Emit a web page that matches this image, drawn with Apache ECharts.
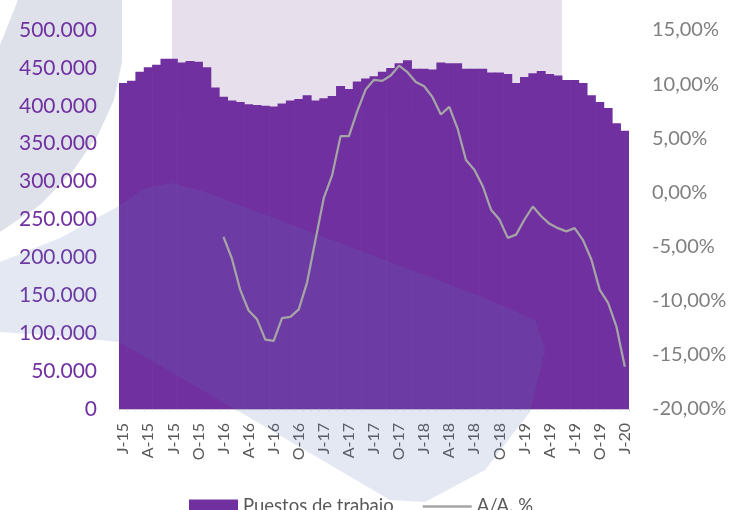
<!DOCTYPE html>
<html>
<head>
<meta charset="utf-8">
<script src="https://cdn.jsdelivr.net/npm/echarts@6/dist/echarts.min.js"></script>
<style>
  html, body { margin: 0; padding: 0; background: #ffffff; }
  #chart { width: 740px; height: 510px; }
</style>
</head>
<body>
<div id="chart"></div>
<script>
// meses ene-2015 .. ene-2020
const meses = [
  'J-15', 'F-15', 'M-15', 'A-15', 'M-15', 'J-15', 'J-15', 'A-15', 'S-15', 'O-15', 'N-15', 'D-15',
  'J-16', 'F-16', 'M-16', 'A-16', 'M-16', 'J-16', 'J-16', 'A-16', 'S-16', 'O-16', 'N-16', 'D-16',
  'J-17', 'F-17', 'M-17', 'A-17', 'M-17', 'J-17', 'J-17', 'A-17', 'S-17', 'O-17', 'N-17', 'D-17',
  'J-18', 'F-18', 'M-18', 'A-18', 'M-18', 'J-18', 'J-18', 'A-18', 'S-18', 'O-18', 'N-18', 'D-18',
  'J-19', 'F-19', 'M-19', 'A-19', 'M-19', 'J-19', 'J-19', 'A-19', 'S-19', 'O-19', 'N-19', 'D-19',
  'J-20'
];

const puestos = [
  430000, 433000, 445000, 451000, 454000, 462000, 462000, 457000, 459000, 458000, 451000, 424000,
  412000, 407000, 405000, 402000, 401000, 400000, 399000, 403000, 407000, 409000, 414000, 407000,
  410000, 413000, 426000, 422000, 432000, 436000, 439000, 445000, 450000, 456000, 460000, 449000,
  449000, 448000, 457000, 456000, 456000, 449000, 449000, 449000, 444000, 444000, 442000, 430000,
  438000, 443000, 446000, 442000, 440000, 434000, 434000, 430000, 414000, 405000, 397000, 377000,
  367000
];

// variacion anual en %, sin dato en 2015
const variacion = [
  null, null, null, null, null, null, null, null, null, null, null, null,
  -4.1, -6.1, -9.0, -10.9, -11.7, -13.6, -13.7, -11.6, -11.5, -10.8, -8.3, -4.4,
  -0.5, 1.6, 5.2, 5.2, 7.5, 9.5, 10.4, 10.3, 10.8, 11.7, 11.1, 10.2,
  9.8, 8.8, 7.2, 7.9, 5.9, 3.0, 2.1, 0.6, -1.6, -2.5, -4.2, -3.9,
  -2.5, -1.3, -2.2, -2.9, -3.3, -3.6, -3.3, -4.4, -6.2, -9.0, -10.2, -12.4,
  -16.1
];

const font = 'Lato, "Open Sans", sans-serif';

const chart = echarts.init(document.getElementById('chart'));
const option = {
  animation: false,
  textStyle: { fontFamily: font },
  graphic: [
    // fondo: franja gris a la izquierda
    {
      type: 'polygon', z: -2, silent: true,
      shape: { points: [[18, 0], [122, 0], [122, 62], [114, 100], [98, 135], [72, 172], [40, 205], [0, 232], [0, 45]] },
      style: { fill: '#DEE1EA' }
    },
    // fondo: rectangulo lila arriba
    {
      type: 'rect', z: -2, silent: true,
      shape: { x: 172, y: 0, width: 390, height: 118 },
      style: { fill: '#E7DFEC' }
    },
    // mancha azulada encima de las barras
    {
      type: 'polygon', z: 3, silent: true,
      shape: {
        points: [[0, 262], [60, 238], [119, 206], [145, 188], [172, 183], [205, 192], [480, 296], [535, 320],
                 [545, 350], [530, 412], [485, 470], [425, 502], [390, 500], [240, 412], [119, 342],
                 [60, 336], [0, 332]]
      },
      style: { fill: 'rgba(90,120,180,0.17)' }
    }
  ],
  legend: {
    top: 497,
    left: 189,
    padding: 0,
    itemWidth: 49,
    itemHeight: 14,
    itemGap: 29,
    symbolKeepAspect: true,
    textStyle: { fontSize: 18.5, color: '#595959', fontFamily: font },
    data: [
      { name: 'Puestos de trabajo', icon: 'rect' },
      { name: 'A/A. %', icon: 'path://M0,0H49V2.4H0Z' }
    ]
  },
  grid: {
    left: 119,
    right: 111,
    top: 30,
    bottom: 101,
    outerBoundsMode: 'none'
  },
  xAxis: {
    type: 'category',
    data: meses,
    axisLine: { lineStyle: { color: '#C9C0D6', width: 1 } },
    axisTick: { show: true, interval: 0, length: 2, lineStyle: { color: '#D9D9D9' } },
    axisLabel: {
      interval: 2,
      rotate: 90,
      margin: 14,
      fontSize: 16,
      color: '#595959',
      fontFamily: font
    }
  },
  yAxis: [
    {
      type: 'value',
      min: 0,
      max: 500000,
      interval: 50000,
      splitLine: { show: false },
      axisLine: { show: false },
      axisTick: { show: false },
      axisLabel: {
        margin: 22,
        fontSize: 21,
        color: '#7030A0',
        fontFamily: font,
        formatter: v => String(v).replace(/\B(?=(\d{3})+(?!\d))/g, '.')
      }
    },
    {
      type: 'value',
      position: 'right',
      min: -20,
      max: 15,
      interval: 5,
      splitLine: { show: false },
      axisLine: { show: false },
      axisTick: { show: false },
      axisLabel: {
        margin: 23,
        fontSize: 20,
        color: '#7F7F7F',
        fontFamily: font,
        formatter: v => v.toFixed(2).replace('.', ',') + '%'
      }
    }
  ],
  series: [
    {
      name: 'Puestos de trabajo',
      type: 'bar',
      data: puestos,
      barWidth: 9,
      itemStyle: { color: '#7030A0' },
      z: 2
    },
    {
      name: 'A/A. %',
      type: 'line',
      yAxisIndex: 1,
      data: variacion,
      symbol: 'none',
      lineStyle: { color: '#A5A5A5', width: 2.25 },
      itemStyle: { color: '#A5A5A5' },
      z: 5
    }
  ]
};

option && chart.setOption(option);
</script>
</body>
</html>
